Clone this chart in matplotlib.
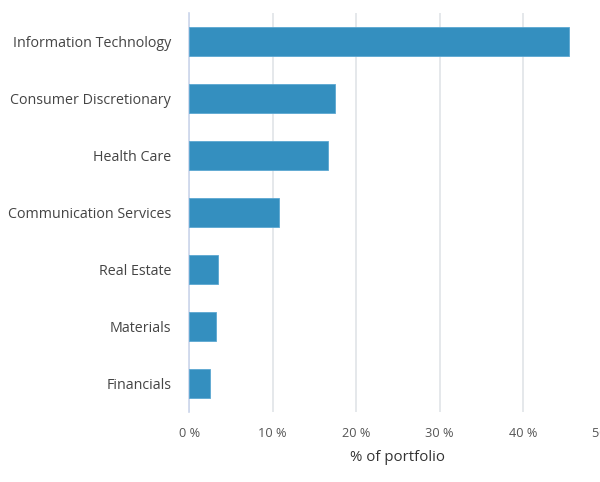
import numpy as np
import matplotlib.pyplot as plt

# Данные
sectors = ["Information Technology", "Consumer Discretionary", "Health Care",
           "Communication Services", "Real Estate", "Materials", "Financials"]
weights = [45.5, 17.5, 16.6, 10.7, 3.5, 3.2, 2.5]
x_ticks = [0, 10, 20, 30, 40, 50]
x_tick_labels = ["0 %", "10 %", "20 %", "30 %", "40 %", "50 %"]

plt.rcParams['font.family'] = ['Open Sans', 'DejaVu Sans']

fig = plt.figure(figsize=(6, 4.82), dpi=100)
ax = fig.add_axes([189.3 / 600, 70 / 482, 417 / 600, 399 / 482])

y = np.arange(len(sectors))
ax.barh(y, weights, height=0.5, color="#348fbf", edgecolor="#5ba7d2", linewidth=0.6, zorder=3)

ax.set_ylim(len(sectors) - 0.5, -0.5)
ax.set_xlim(0, 50)
ax.set_yticks(y)
ax.set_yticklabels(sectors, fontsize=10.3, color="#444444")
ax.set_xticks(x_ticks)
ax.set_xticklabels(x_tick_labels, fontsize=9.2, color="#555555")
ax.tick_params(axis="y", length=0, pad=13)
ax.tick_params(axis="x", length=0, pad=11)

ax.grid(axis="x", color="#e0e4e8", linewidth=1.2, zorder=0)
for side in ["top", "right", "bottom"]:
    ax.spines[side].set_visible(False)
ax.spines["left"].set_color("#ccd6eb")
ax.spines["left"].set_linewidth(1.2)

ax.set_xlabel("% of portfolio", fontsize=10.8, color="#333333", labelpad=7)

plt.savefig("out.png", dpi=100)
